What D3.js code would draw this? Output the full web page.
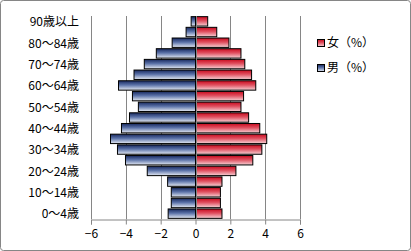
<!DOCTYPE html>
<html>
<head>
<meta charset="utf-8">
<script src="https://cdn.jsdelivr.net/npm/d3@7"></script>
<style>
  body { margin: 0; background: #fff; }
  svg text { font-family: "Noto Sans CJK JP", sans-serif; fill: #000; }
</style>
</head>
<body>
<div class="plot"></div>
<script>
// age groups, bottom to top
var ages = ["0～4歳","5～9歳","10～14歳","15～19歳","20～24歳","25～29歳","30～34歳","35～39歳",
            "40～44歳","45～49歳","50～54歳","55～59歳","60～64歳","65～69歳","70～74歳",
            "75～79歳","80～84歳","85～89歳","90歳以上"];
var male = [-1.57,-1.39,-1.39,-1.6,-2.77,-4.02,-4.48,-4.88,-4.25,-3.79,-3.28,-3.62,-4.42,-3.53,-2.94,-2.25,-1.34,-0.54,-0.25];
var female = [1.52,1.43,1.43,1.52,2.32,3.29,3.81,4.09,3.69,3.05,2.61,2.76,3.46,3.22,2.83,2.61,1.92,1.22,0.7];
var xTicks = [-6,-4,-2,0,2,4,6];
var seriesNames = ["女（%）", "男（%）"];

var W = 411, H = 251;
var margin = {top: 16, left: 91, right: 111, bottom: 32};

var svg = d3.select(".plot").append("svg")
    .attr("width", W).attr("height", H);

var defs = svg.append("defs");
var gBlue = defs.append("linearGradient").attr("id", "gblue")
    .attr("x1", 0).attr("y1", 0).attr("x2", 0).attr("y2", 1);
gBlue.append("stop").attr("offset", "0%").attr("stop-color", "#17285e");
gBlue.append("stop").attr("offset", "45%").attr("stop-color", "#5b72a8");
gBlue.append("stop").attr("offset", "100%").attr("stop-color", "#e6ebf4");
var gRed = defs.append("linearGradient").attr("id", "gred")
    .attr("x1", 0).attr("y1", 0).attr("x2", 0).attr("y2", 1);
gRed.append("stop").attr("offset", "0%").attr("stop-color", "#c80a1e");
gRed.append("stop").attr("offset", "45%").attr("stop-color", "#e05060");
gRed.append("stop").attr("offset", "100%").attr("stop-color", "#f6d2d6");

// chart frame
svg.append("rect")
    .attr("x", 0.5).attr("y", 0.5)
    .attr("width", W - 1).attr("height", H - 1)
    .attr("rx", 3)
    .attr("fill", "#fff").attr("stroke", "#868686");

var x = d3.scaleLinear().domain([-6, 6]).range([margin.left, W - margin.right]);
var y = d3.scaleBand().domain(ages).range([H - margin.bottom, margin.top]).paddingInner(0.12).paddingOuter(0.06);

// gridlines
svg.append("g").selectAll("line").data(xTicks).enter().append("line")
    .attr("x1", function(d) { return Math.round(x(d)) + 0.5; })
    .attr("x2", function(d) { return Math.round(x(d)) + 0.5; })
    .attr("y1", margin.top).attr("y2", H - margin.bottom)
    .attr("stroke", "#868686");

// bars
svg.append("g").selectAll("rect").data(ages).enter().append("rect")
    .attr("x", function(d, i) { return x(male[i]); })
    .attr("y", function(d) { return y(d); })
    .attr("width", function(d, i) { return x(0) - x(male[i]); })
    .attr("height", y.bandwidth())
    .attr("fill", "url(#gblue)").attr("stroke", "#000").attr("stroke-width", 1);

svg.append("g").selectAll("rect").data(ages).enter().append("rect")
    .attr("x", x(0))
    .attr("y", function(d) { return y(d); })
    .attr("width", function(d, i) { return x(female[i]) - x(0); })
    .attr("height", y.bandwidth())
    .attr("fill", "url(#gred)").attr("stroke", "#000").attr("stroke-width", 1);

// zero line drawn over
svg.append("line")
    .attr("x1", Math.round(x(0)) + 0.5).attr("x2", Math.round(x(0)) + 0.5)
    .attr("y1", margin.top).attr("y2", H - margin.bottom)
    .attr("stroke", "#868686");

// x axis
var xAxis = svg.append("g")
    .attr("transform", "translate(0," + (Math.round(H - margin.bottom) + 0.5) + ")")
    .call(d3.axisBottom(x).tickValues(xTicks).tickSize(5).tickPadding(5).tickFormat(d3.format("d")));
xAxis.select(".domain").attr("stroke", "#868686");
xAxis.selectAll(".tick line").attr("stroke", "#868686");
xAxis.selectAll("text").attr("font-size", 12).style("font-family", "'Noto Sans CJK JP', sans-serif");

// category labels, every other one
svg.append("g").selectAll("text")
    .data(ages.filter(function(d, i) { return i % 2 === 0; }))
    .enter().append("text")
    .attr("x", 79)
    .attr("y", function(d) { return y(d) + y.bandwidth() / 2 + 0.5; })
    .attr("dy", "0.36em")
    .attr("text-anchor", "end")
    .attr("font-size", 12)
    .text(function(d) { return d; });

// legend
var legend = svg.append("g").selectAll("g").data(seriesNames).enter().append("g")
    .attr("transform", function(d, i) { return "translate(317," + (43 + i * 25) + ")"; });
legend.append("rect")
    .attr("x", 0.5).attr("y", -3.5).attr("width", 7).attr("height", 7)
    .attr("fill", function(d, i) { return i === 0 ? "url(#gred)" : "url(#gblue)"; })
    .attr("stroke", "#000");
legend.append("text")
    .attr("x", 10).attr("dy", "0.36em")
    .attr("font-size", 12)
    .text(function(d) { return d; });
</script>
</body>
</html>
